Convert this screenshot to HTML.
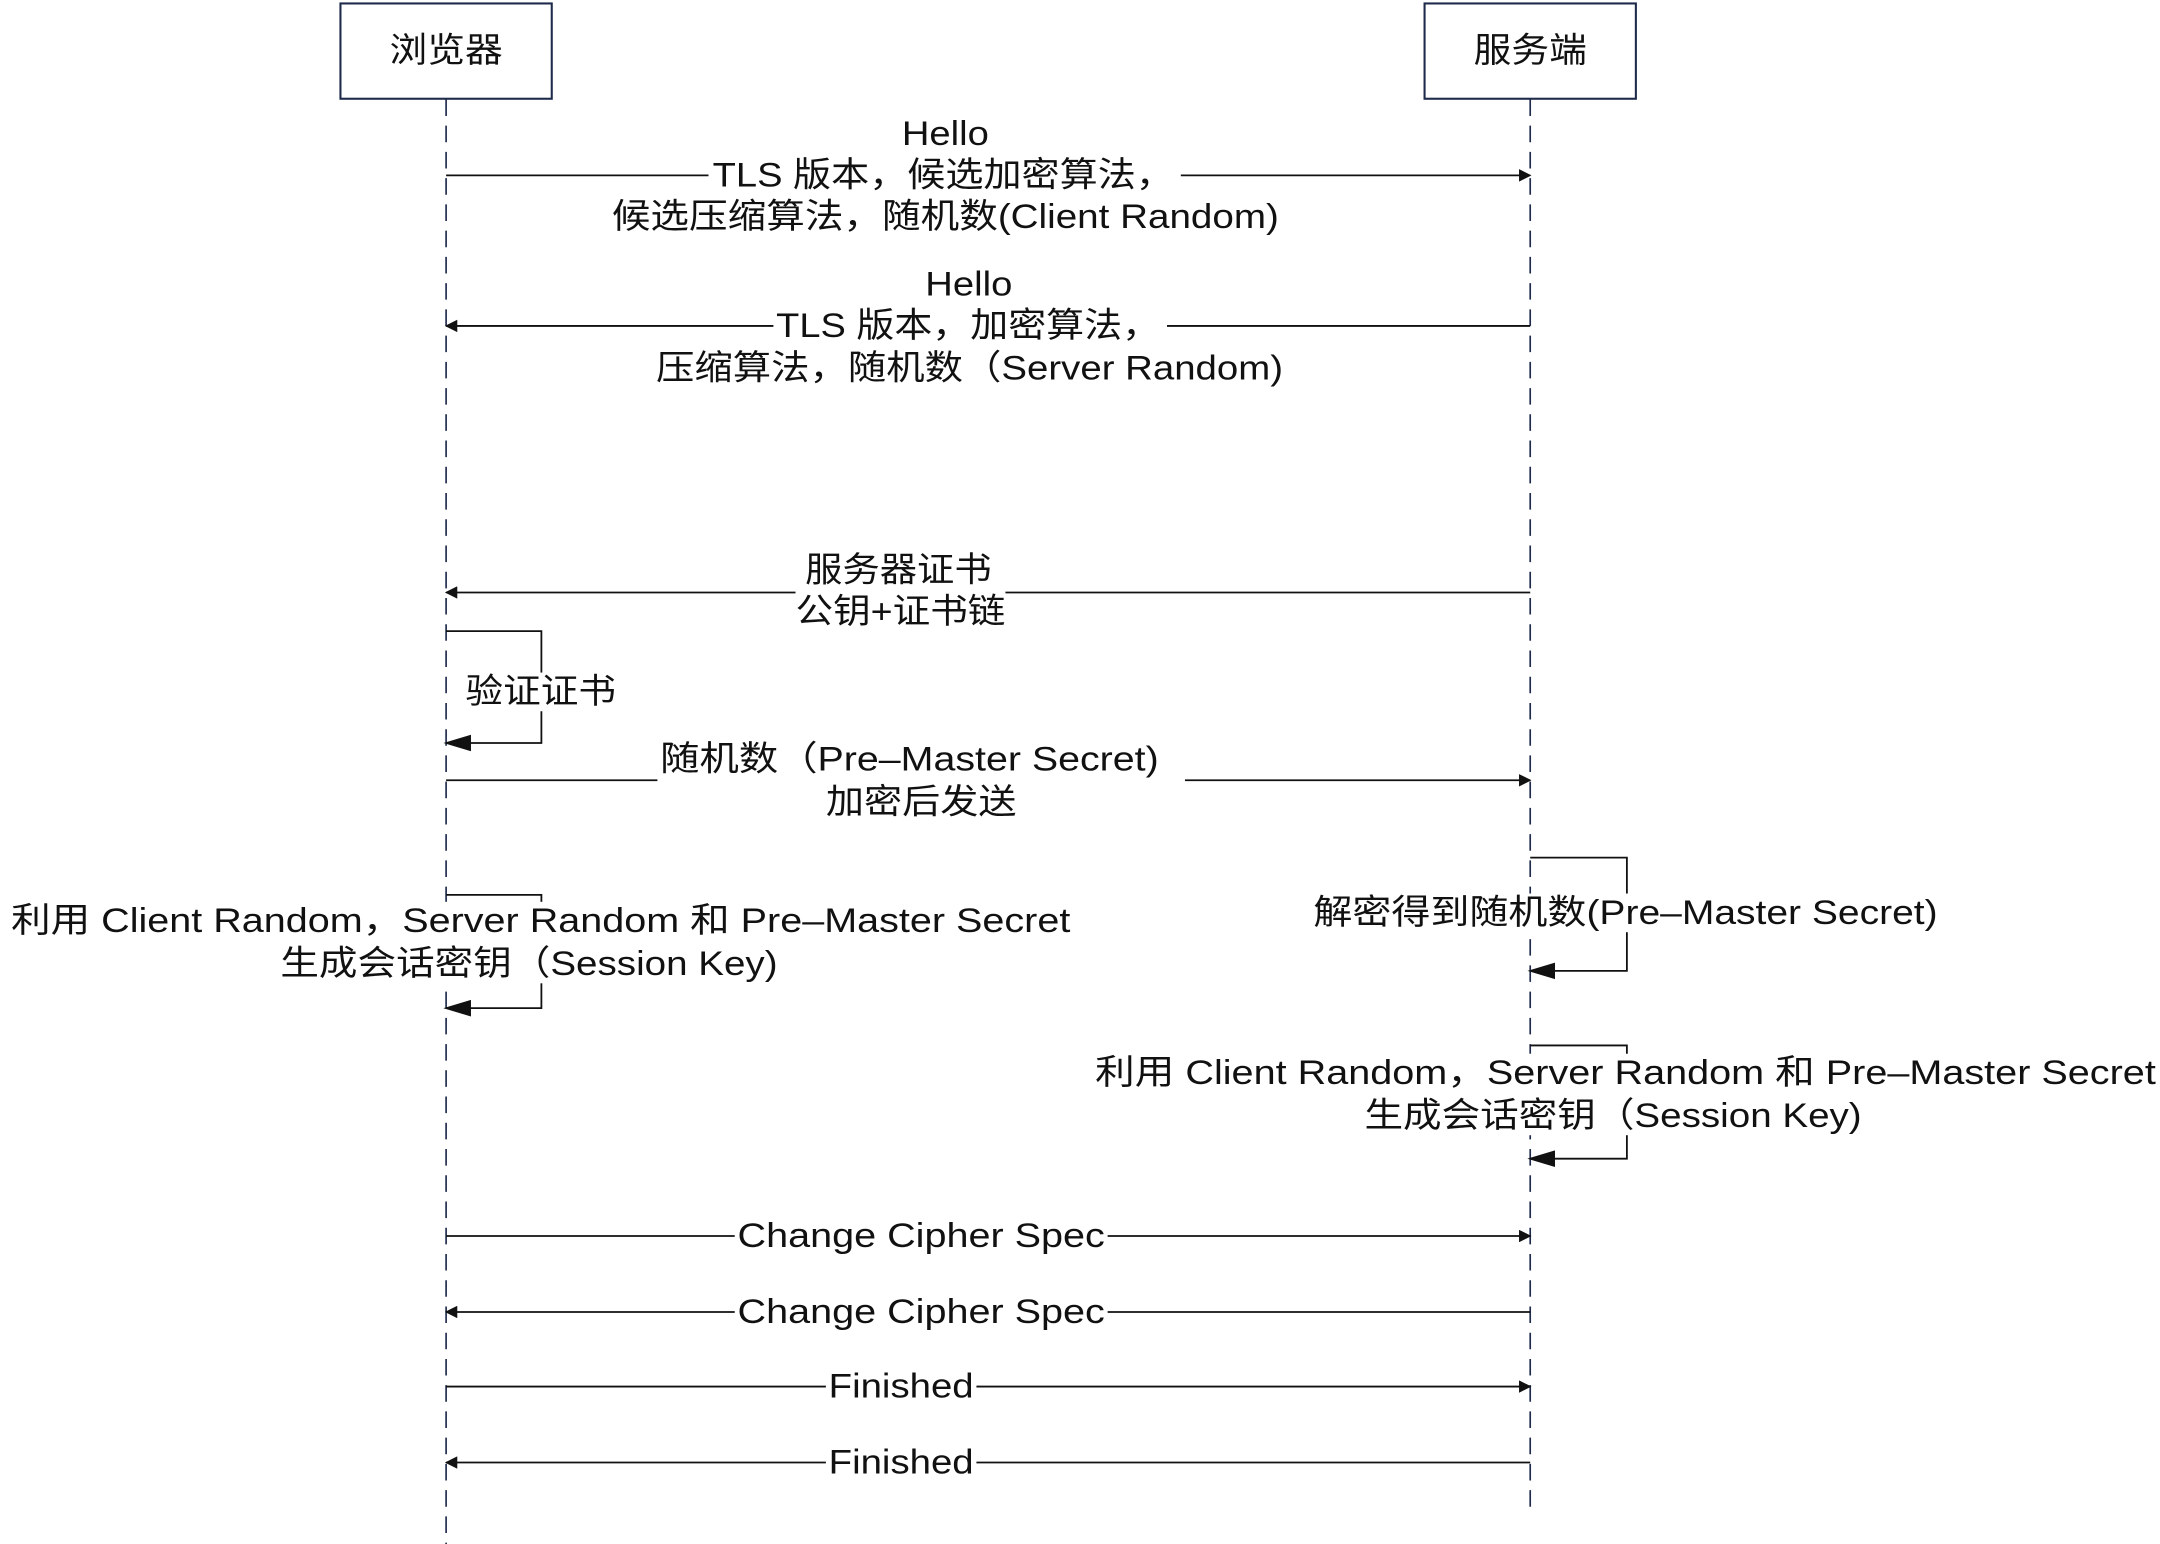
<!DOCTYPE html>
<html><head><meta charset="utf-8"><style>
html,body{margin:0;padding:0;background:#fff;}
svg{display:block;}
text{font-family:"Liberation Sans","Noto Sans CJK SC",sans-serif;font-size:25px;fill:#111;text-anchor:middle;dominant-baseline:central;}
</style></head><body>
<svg width="2160" height="1544" viewBox="0 0 1564 1118" xmlns="http://www.w3.org/2000/svg">
<defs>
<marker id="a" viewBox="0 0 10 10" refX="9" refY="5" markerWidth="9" markerHeight="9" markerUnits="userSpaceOnUse" orient="auto"><path d="M0,0L10,5L0,10z" fill="#111"/></marker>
<marker id="b" viewBox="0 0 10 10" refX="9" refY="5" markerWidth="20" markerHeight="20" markerUnits="userSpaceOnUse" orient="auto"><path d="M0,2L10,5L0,8z" fill="#111"/></marker>
</defs>
<rect x="246.5" y="2.5" width="153" height="69" fill="#fff" stroke="#1e2a4a" stroke-width="1.5"/>
<rect x="1031.5" y="2.5" width="153" height="69" fill="#fff" stroke="#1e2a4a" stroke-width="1.5"/>
<text x="323" y="37" textLength="82" lengthAdjust="spacingAndGlyphs">浏览器</text>
<text x="1108" y="37" textLength="82" lengthAdjust="spacingAndGlyphs">服务端</text>
<line x1="323" y1="72" x2="323" y2="1120" stroke="#1e2a4a" stroke-width="1.2" stroke-dasharray="12,7"/>
<line x1="1108" y1="72" x2="1108" y2="1098" stroke="#1e2a4a" stroke-width="1.2" stroke-dasharray="12,7"/>
<g stroke="#111" stroke-width="1.3" fill="none">
<line x1="323" y1="127" x2="1108" y2="127" marker-end="url(#a)"/>
<line x1="1108" y1="236" x2="323" y2="236" marker-end="url(#a)"/>
<line x1="1108" y1="429" x2="323" y2="429" marker-end="url(#a)"/>
<polyline points="323,457 392,457 392,538 323,538" marker-end="url(#b)"/>
<line x1="323" y1="565" x2="1108" y2="565" marker-end="url(#a)"/>
<polyline points="323,648 392,648 392,730 323,730" marker-end="url(#b)"/>
<polyline points="1108,621 1178,621 1178,703 1108,703" marker-end="url(#b)"/>
<polyline points="1108,757 1178,757 1178,839 1108,839" marker-end="url(#b)"/>
<line x1="323" y1="895" x2="1108" y2="895" marker-end="url(#a)"/>
<line x1="1108" y1="950" x2="323" y2="950" marker-end="url(#a)"/>
<line x1="323" y1="1004" x2="1108" y2="1004" marker-end="url(#a)"/>
<line x1="1108" y1="1059" x2="323" y2="1059" marker-end="url(#a)"/>
</g>
<g fill="#fff">
<rect x="513" y="113" width="342" height="28"/>
<rect x="560" y="222" width="285" height="28"/>
<rect x="576" y="399" width="152" height="58"/>
<rect x="335" y="487" width="113" height="28"/>
<rect x="476" y="536" width="382" height="58"/>
<rect x="6" y="653" width="771" height="59"/>
<rect x="949" y="647" width="456" height="28"/>
<rect x="791" y="763" width="772" height="59"/>
<rect x="532" y="881" width="270" height="28"/>
<rect x="532" y="936" width="270" height="28"/>
<rect x="598" y="990" width="109" height="28"/>
<rect x="598" y="1045" width="109" height="28"/>
</g>
<g style="" >
<text x="684.5" y="97" textLength="63" lengthAdjust="spacingAndGlyphs">Hello</text>
<text x="683" y="127" textLength="334" lengthAdjust="spacingAndGlyphs">TLS 版本，候选加密算法，</text>
<text x="684.5" y="157" textLength="483" lengthAdjust="spacingAndGlyphs">候选压缩算法，随机数(Client Random)</text>
<text x="701.5" y="206" textLength="63" lengthAdjust="spacingAndGlyphs">Hello</text>
<text x="701" y="236" textLength="278" lengthAdjust="spacingAndGlyphs">TLS 版本，加密算法，</text>
<text x="702" y="267" textLength="454" lengthAdjust="spacingAndGlyphs">压缩算法，随机数（Server Random)</text>
<text x="650.5" y="413" textLength="135" lengthAdjust="spacingAndGlyphs">服务器证书</text>
<text x="652" y="443" textLength="152" lengthAdjust="spacingAndGlyphs">公钥+证书链</text>
<text x="391.5" y="501" textLength="109" lengthAdjust="spacingAndGlyphs">验证证书</text>
<text x="658.5" y="550" textLength="361" lengthAdjust="spacingAndGlyphs">随机数（Pre–Master Secret)</text>
<text x="667" y="581" textLength="138" lengthAdjust="spacingAndGlyphs">加密后发送</text>
<text x="391.5" y="667" textLength="767" lengthAdjust="spacingAndGlyphs">利用 Client Random，Server Random 和 Pre–Master Secret</text>
<text x="383" y="698" textLength="360" lengthAdjust="spacingAndGlyphs">生成会话密钥（Session Key)</text>
<text x="1177" y="661" textLength="452" lengthAdjust="spacingAndGlyphs">解密得到随机数(Pre–Master Secret)</text>
<text x="1177" y="777" textLength="768" lengthAdjust="spacingAndGlyphs">利用 Client Random，Server Random 和 Pre–Master Secret</text>
<text x="1168" y="808" textLength="360" lengthAdjust="spacingAndGlyphs">生成会话密钥（Session Key)</text>
<text x="667" y="895" textLength="266" lengthAdjust="spacingAndGlyphs">Change Cipher Spec</text>
<text x="667" y="950" textLength="266" lengthAdjust="spacingAndGlyphs">Change Cipher Spec</text>
<text x="652.5" y="1004" textLength="105" lengthAdjust="spacingAndGlyphs">Finished</text>
<text x="652.5" y="1059" textLength="105" lengthAdjust="spacingAndGlyphs">Finished</text>
</g>
</svg>
</body></html>
